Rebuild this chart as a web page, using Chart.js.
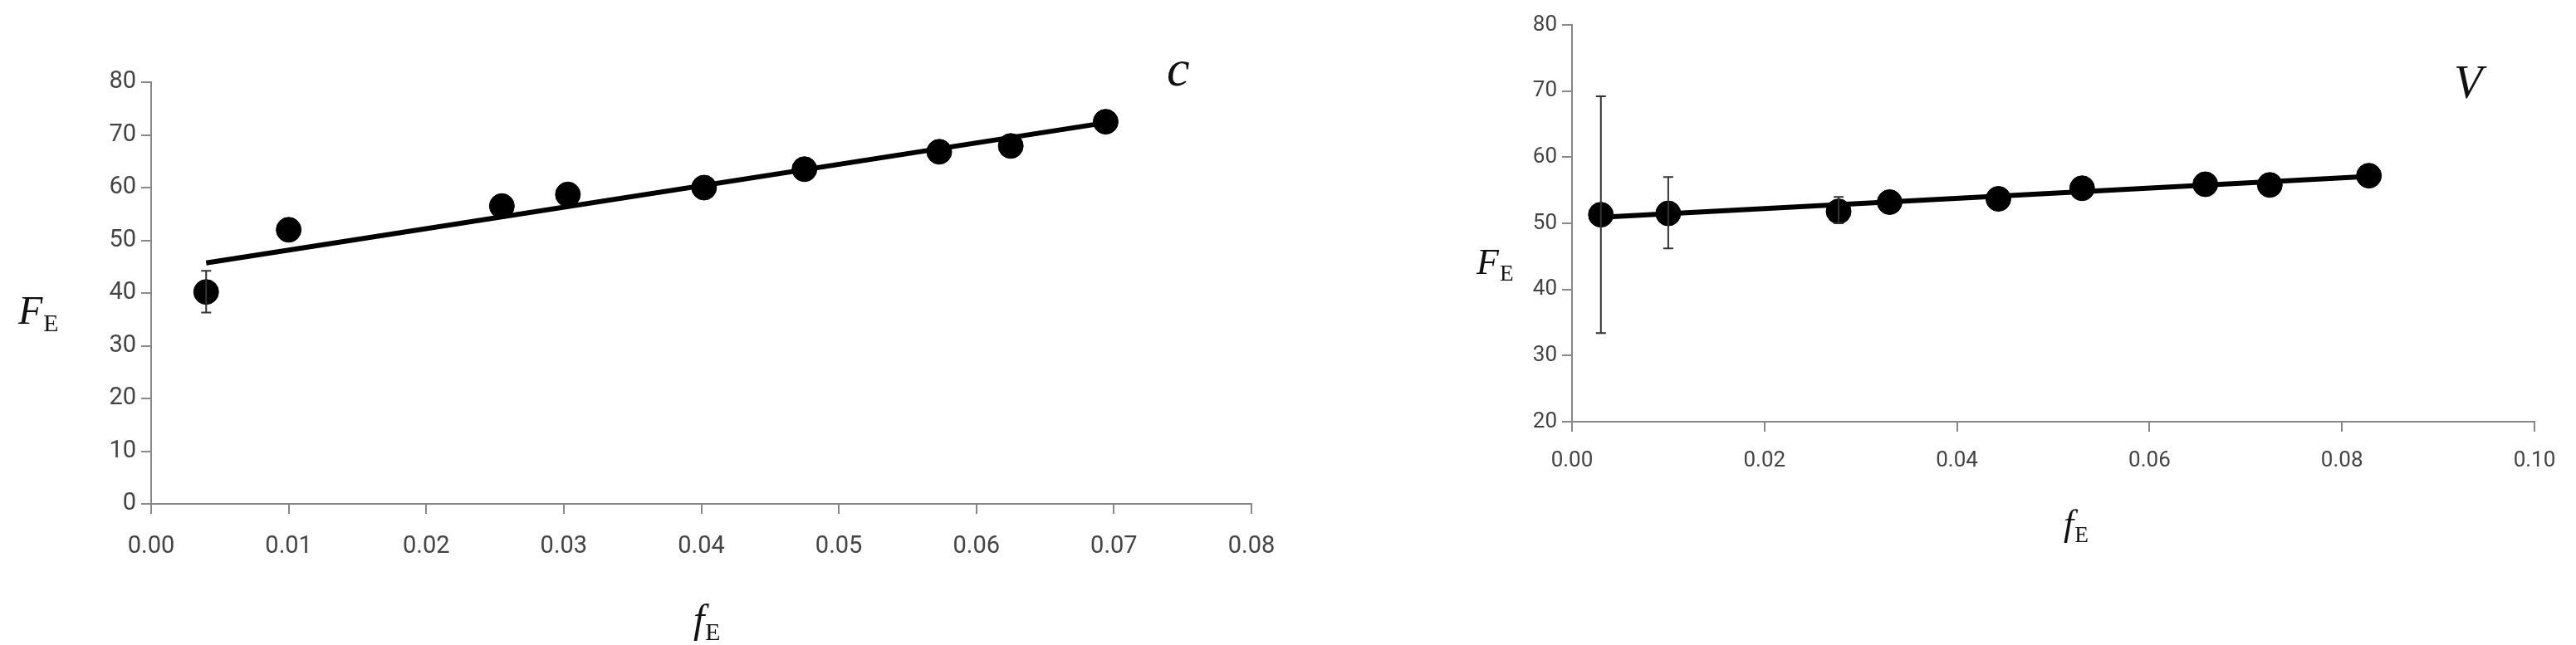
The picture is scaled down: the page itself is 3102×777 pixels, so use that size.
<!DOCTYPE html>
<html><head><meta charset="utf-8">
<script src="https://cdn.jsdelivr.net/npm/chart.js@4"></script>
<style>body{margin:0;background:#fff;width:3102px;height:777px;position:relative;overflow:hidden}
.w{position:absolute;top:0;height:777px}</style></head><body>
<div class="w" style="left:0;width:1560px"><canvas id="c1"></canvas></div>
<div class="w" style="left:1560px;width:1542px"><canvas id="c2"></canvas></div>
<script>
const cX=[0.004,0.010,0.0255,0.0303,0.0402,0.0475,0.0573,0.0625,0.0694];
const cY=[40.2,52.0,56.5,58.7,60.0,63.5,66.8,67.9,72.5];
const cErrLo=[36.3,null,null,null,null,null,null,null,null];
const cErrHi=[44.2,null,null,null,null,null,null,null,null];
const cFitX=[0.004,0.0694];
const cFitY=[45.7,72.3];
const vX=[0.003,0.010,0.0277,0.033,0.0443,0.053,0.0658,0.0725,0.0828];
const vY=[51.3,51.5,51.8,53.2,53.7,55.3,55.9,55.8,57.2];
const vErrLo=[33.4,46.2,50.0,null,null,null,null,null,null];
const vErrHi=[69.2,57.0,54.0,null,null,null,null,null,null];
const vFitX=[0.003,0.0828];
const vFitY=[50.9,57.1];
const cXTicks=[0,0.01,0.02,0.03,0.04,0.05,0.06,0.07,0.08];
const vXTicks=[0,0.02,0.04,0.06,0.08,0.10];

function mk(id,xs,ys,lo,hi,fx,fy,o){
  const ctx=document.getElementById(id);
  const errPlugin={id:'err',afterDatasetsDraw(ch){
    const g=ch.ctx,x=ch.scales.x,y=ch.scales.y;g.save();g.strokeStyle='#333';g.lineWidth=2;
    xs.forEach((v,i)=>{if(lo[i]==null)return;const px=x.getPixelForValue(v),a=y.getPixelForValue(lo[i]),b=y.getPixelForValue(hi[i]);
      g.beginPath();g.moveTo(px,a);g.lineTo(px,b);g.moveTo(px-6,a);g.lineTo(px+6,a);g.moveTo(px-6,b);g.lineTo(px+6,b);g.stroke();});
    // labels
    g.fillStyle='#111';g.textBaseline='alphabetic';
    const sub=(t,s,px,py,fs)=>{g.font='italic '+fs+'px "Liberation Serif"';g.textAlign='left';g.fillText(t,px,py);const w=g.measureText(t).width;g.font=(fs*0.62)+'px "Liberation Serif"';g.fillText(s,px+w+1,py+fs*0.18);};
    sub('f','E',o.xt[0],o.xt[1],o.tf);
    sub('F','E',o.yt[0],o.yt[1],o.tf);
    g.font='italic '+o.lf+'px "Liberation Serif"';g.fillText(o.lab,o.lp[0],o.lp[1]);
    g.restore();}};
  new Chart(ctx,{type:'scatter',data:{datasets:[
    {data:fx.map((v,i)=>({x:v,y:fy[i]})),showLine:true,borderColor:'#000',borderWidth:6,pointRadius:0,order:2},
    {data:xs.map((v,i)=>({x:v,y:ys[i]})),pointRadius:15,pointBackgroundColor:'#000',pointBorderColor:'#000',order:1}]},
   options:{responsive:true,maintainAspectRatio:false,animation:false,
    layout:{padding:{top:o.top,right:o.right,left:0,bottom:0}},
    plugins:{legend:{display:false},tooltip:{enabled:false}},
    scales:{
     x:{type:'linear',min:o.xmin,max:o.xmax,afterBuildTicks(s){s.ticks=o.xticks.map(v=>({value:v}));},
        afterFit(s){s.height=o.xh;},
        border:{color:'#888',width:2},grid:{drawOnChartArea:false,color:'#888',tickLength:12,lineWidth:2},
        ticks:{color:'#444',font:{family:'"Liberation Sans Narrow", Roboto',size:o.fs},padding:o.xpad,maxRotation:0,callback:v=>v.toFixed(2)}},
     y:{min:o.ymin,max:o.ymax,afterFit(s){s.width=o.yw;},
        border:{color:'#888',width:2},grid:{drawOnChartArea:false,color:'#888',tickLength:12,lineWidth:2},
        ticks:{stepSize:10,color:'#444',font:{family:'"Liberation Sans Narrow", Roboto',size:o.fs},padding:6}}}},
   plugins:[errPlugin]});
}
mk('c1',cX,cY,cErrLo,cErrHi,cFitX,cFitY,{top:99,right:53,xh:170,yw:182,xmin:0,xmax:0.08,ymin:0,ymax:80,xticks:cXTicks,fs:29,xpad:22,
  xt:[835,762],yt:[22,390],tf:48,lab:'c',lp:[1405,103],lf:62});
mk('c2',vX,vY,vErrLo,vErrHi,vFitX,vFitY,{top:30,right:50,xh:269,yw:333,xmin:0,xmax:0.10,ymin:20,ymax:80,xticks:vXTicks,fs:26,xpad:20,
  xt:[925,645],yt:[218,330],tf:44,lab:'V',lp:[1395,118],lf:56});
</script></body></html>
